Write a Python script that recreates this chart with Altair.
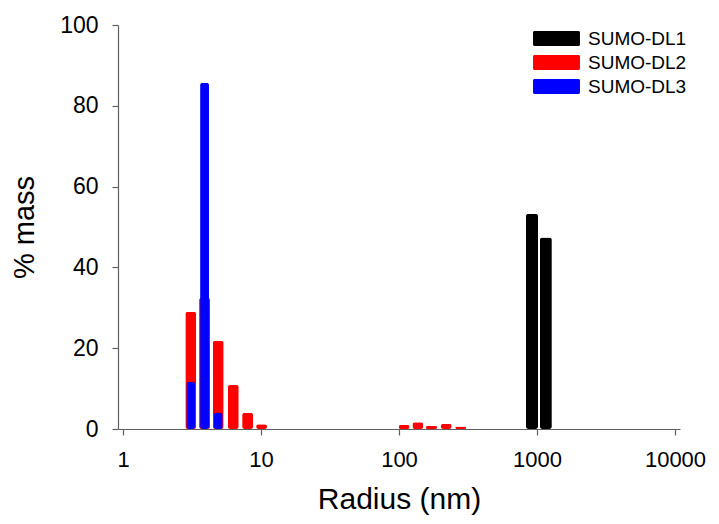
import altair as alt
import pandas as pd

# ---- data ----
series_names = ["SUMO-DL1", "SUMO-DL2", "SUMO-DL3"]
series_colors = ["#000000", "#ff0000", "#0000ff"]

dl1_radius = [920, 1160]
dl1_mass = [53.3, 47.4]

dl2_radius = [3.1, 3.9, 4.9, 6.3, 8.0, 10.1, 109, 137, 172, 220, 280]
dl2_mass = [29.0, 32.5, 21.8, 10.9, 4.0, 1.2, 1.0, 1.7, 0.8, 1.3, 0.6]

dl3_radius = [3.1, 3.9, 4.9]
dl3_mass = [11.7, 85.7, 4.1]

x_ticks = [1, 10, 100, 1000, 10000]
y_ticks = [0, 20, 40, 60, 80, 100]

FONT = "Liberation Sans, Arial, sans-serif"

df1 = pd.DataFrame({"r": dl1_radius, "m": dl1_mass, "s": series_names[0]})
df2 = pd.DataFrame({"r": dl2_radius, "m": dl2_mass, "s": series_names[1]})
df3 = pd.DataFrame({"r": dl3_radius, "m": dl3_mass, "s": series_names[2]})

# wide rounded-rectangle legend swatch (47 x 15 px at symbolSize 225)
SWATCH = ("M-2.93,-1H2.93A0.2,0.2 0 0 1 3.13,-0.8V0.8A0.2,0.2 0 0 1 2.93,1"
          "H-2.93A0.2,0.2 0 0 1 -3.13,0.8V-0.8A0.2,0.2 0 0 1 -2.93,-1Z")

x_enc = alt.X("r:Q",
              scale=alt.Scale(type="log", domain=[1, 10000], nice=False),
              axis=alt.Axis(values=x_ticks, format="d", title="Radius (nm)",
                            grid=False, labelFontSize=22, titleFontSize=30,
                            labelPadding=14, titlePadding=14, tickSize=6,
                            labelFlush=False, labelOverlap=False))
y_enc = alt.Y("m:Q",
              scale=alt.Scale(domain=[0, 100], nice=False),
              axis=alt.Axis(values=y_ticks, title="% mass", grid=False,
                            labelFontSize=23, titleFontSize=29,
                            labelPadding=14, titlePadding=20, tickSize=6))
color_enc = alt.Color("s:N",
                      scale=alt.Scale(domain=series_names, range=series_colors),
                      legend=alt.Legend(title=None, orient="none",
                                        legendX=429, legendY=4,
                                        symbolType=SWATCH,
                                        symbolSize=225, symbolStrokeWidth=0,
                                        labelFontSize=19, labelOffset=22,
                                        rowPadding=4, labelFont=FONT,
                                        labelColor="#000000"))


def bars(df, size):
    return alt.Chart(df).mark_bar(size=size, cornerRadius=2.5).encode(
        x=x_enc, y=y_enc, color=color_enc)


chart = alt.layer(
    bars(df1, 12), bars(df2, 11), bars(df3, 9)
).properties(
    width=562, height=404,
    padding={"left": 110, "top": 17, "right": 31, "bottom": 87},
    autosize=alt.AutoSizeParams(type="none"),
).configure_view(stroke=None).configure_axis(
    labelFont=FONT, titleFont=FONT, labelColor="#000000", titleColor="#000000",
    titleFontWeight="normal", domainColor="#606060", tickColor="#606060",
    domainWidth=1.2, tickWidth=1.2,
)

chart.save("out.html", embed_options={"renderer": "svg", "actions": False})
